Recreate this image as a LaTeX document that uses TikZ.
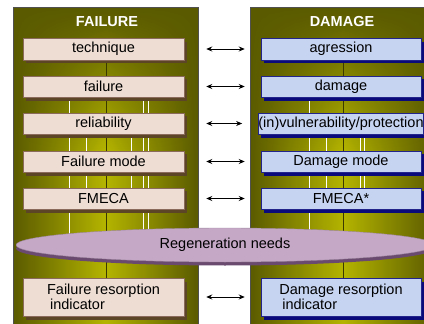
\documentclass[tikz,border=0pt]{standalone}
\usepackage{fontspec}
\setmainfont{Liberation Sans}
\usetikzlibrary{arrows.meta, shapes.geometric, shadows, fadings}

\definecolor{oliveD}{HTML}{5A5A00}
\definecolor{oliveL}{HTML}{B4B400}
\definecolor{panelB}{HTML}{505050}
\definecolor{fFill}{HTML}{EEDDD3}
\definecolor{fBorder}{HTML}{8A6A5A}
\definecolor{fShadow}{HTML}{5C4526}
\definecolor{dFill}{HTML}{C6D4F2}
\definecolor{dBorder}{HTML}{23238C}
\definecolor{dShadow}{HTML}{0A0A7A}
\definecolor{eFill}{HTML}{C4A8C6}
\definecolor{eShadow}{HTML}{6A4A6E}
\definecolor{spineC}{HTML}{3A3A00}

\pgfdeclarelayer{back}
\pgfdeclarelayer{mid}
\pgfsetlayers{back,mid,main}

\tikzfading[name=topdark, top color=transparent!0, bottom color=transparent!100]

\begin{document}
\begin{tikzpicture}[x=1pt, y=-1pt,
  font=\fontsize{14.5}{15.5}\selectfont,
  panel/.style={draw=panelB, line width=0.6pt, left color=oliveD, right color=oliveD, middle color=oliveL},
  fbox/.style={draw=fBorder, fill=fFill, line width=0.5pt, minimum width=161pt, minimum height=21.5pt, inner sep=0pt,
    drop shadow={shadow xshift=3pt, shadow yshift=-3.5pt, fill=fShadow, opacity=1}},
  dbox/.style={draw=dBorder, fill=dFill, line width=0.5pt, minimum width=160pt, minimum height=21.5pt, inner sep=0pt,
    drop shadow={shadow xshift=3pt, shadow yshift=-3.5pt, fill=dShadow, opacity=1}},
  link/.style={{Stealth[length=6pt,width=5pt]}-{Stealth[length=6pt,width=5pt]}, line width=0.8pt},
  spine/.style={spineC, line width=0.9pt},
  tick/.style={white, line width=0.6pt},
  title/.style={white, font=\fontsize{14.5}{15.5}\selectfont\bfseries}
]
\useasboundingbox (0,0) rectangle (424,324);
\clip (0,0) rectangle (424,324);

% Panels
\begin{pgfonlayer}{back}
\path[panel] (13,7) rectangle (198,330);
\path[panel] (250,7) rectangle (436,330);
\fill[oliveD, path fading=topdark] (13,7) rectangle (198,150);
\fill[oliveD, path fading=topdark] (250,7) rectangle (436,150);
\draw[panelB, line width=0.6pt] (13,330) -- (13,7) -- (198,7) -- (198,330);
\draw[panelB, line width=0.6pt] (250,330) -- (250,7) -- (436,7);
\end{pgfonlayer}

% Define nodes
\path (107,22) node[title] (ftitle) {FAILURE}
(342,22) node[title] (dtitle) {DAMAGE}
(103.5,49) node[fbox] (tech) {technique}
(tech) +(0,37.5) node[fbox] (fail) {failure}
(fail) +(0,37) node[fbox] (rel) {reliability}
(rel) +(0,38) node[fbox] (fmode) {Failure mode}
(fmode) +(0,37) node[fbox] (fmeca) {FMECA}
(fmeca) +(0,98.5) node[fbox, minimum height=38pt, align=left] (fres) {Failure resorption\\\hspace*{3pt}indicator}
(341,49) node[dbox] (agr) {agression}
(agr) +(0,37.5) node[dbox] (dam) {damage}
(dam) +(0,37) node[dbox] (vul) {(in)vulnerability/protection}
(vul) +(0,38) node[dbox] (dmode) {Damage mode}
(dmode) +(0,37) node[dbox] (dfmeca) {FMECA*}
(dfmeca) +(0,98.5) node[dbox, minimum height=38pt, align=left] (dres) {Damage resorption\\\hspace*{3pt}indicator}
(225,245) node[ellipse, draw=eFill!80!black, line width=0.4pt, fill=eFill, minimum width=418pt, minimum height=34pt, inner sep=0pt,
  drop shadow={shadow xshift=0pt, shadow yshift=-3.5pt, fill=eShadow, opacity=1}] (regen) {\raisebox{-2.5pt}{Regeneration needs}}
;

% Spines
\begin{pgfonlayer}{mid}
\foreach \a/\b in {tech/fail, fail/rel, rel/fmode, fmode/fmeca, fmeca/fres}
  \draw[spine] ([xshift=2.5pt]\a.south) -- ([xshift=2.5pt]\b.north);
\foreach \a/\b in {agr/dam, dam/vul, vul/dmode, dmode/dfmeca, dfmeca/dres}
  \draw[spine] ([xshift=2pt]\a.south) -- ([xshift=2pt]\b.north);
\foreach \dx in {-34.5, 39.5, 44.5}
  \draw[tick] ([xshift=\dx pt]fail.south) -- ([xshift=\dx pt]rel.north);
\foreach \dx in {-34.5, -17.5, 27.5, 39.5, 44.5} {
  \draw[tick] ([xshift=\dx pt]rel.south) -- ([xshift=\dx pt]fmode.north);
  \draw[tick] ([xshift=\dx pt]fmode.south) -- ([xshift=\dx pt]fmeca.north);
}
\foreach \dx in {-34.5, 39.5, 44.5}
  \draw[tick] ([xshift=\dx pt]fmeca.south) -- ([xshift=\dx pt]fmeca.south |- regen.center);
\draw[tick] ([xshift=-32pt]dam.south) -- ([xshift=-32pt]vul.north);
\foreach \dx in {-32, -15, 19, 23} {
  \draw[tick] ([xshift=\dx pt]vul.south) -- ([xshift=\dx pt]dmode.north);
  \draw[tick] ([xshift=\dx pt]dmode.south) -- ([xshift=\dx pt]dfmeca.north);
}
\draw[tick] ([xshift=-32pt]dfmeca.south) -- ([xshift=-32pt]dfmeca.south |- regen.center);
\end{pgfonlayer}

% Links
\foreach \a/\b in {tech/agr, fail/dam, rel/vul, fmode/dmode, fmeca/dfmeca, fres/dres}
  \draw[link] ([xshift=22pt]\a.east) -- ([xshift=-16pt]\b.west);

\end{tikzpicture}
\end{document}
